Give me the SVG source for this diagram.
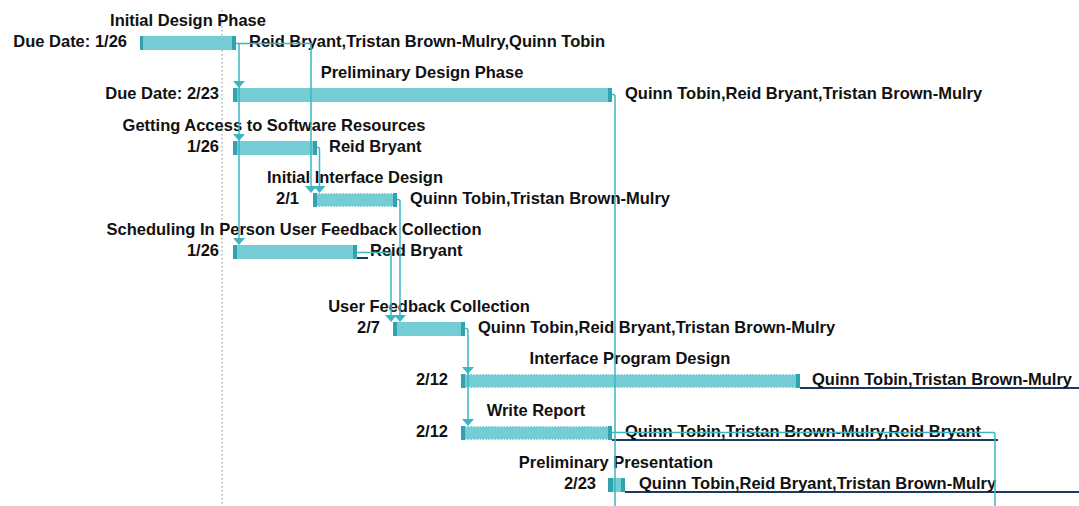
<svg xmlns="http://www.w3.org/2000/svg" width="1079" height="506" viewBox="0 0 1079 506">
<style>
text{font-family:"Liberation Sans",Arial,sans-serif;font-weight:bold;font-size:16.5px;fill:#111}
.t{text-anchor:middle}
.l{text-anchor:end}
.bar{fill:#74CCD4}
.cap{fill:#2FA3AE}
.dot{stroke:#ffffff;stroke-width:1;stroke-dasharray:1.5 1.5;fill:none}
.ul{stroke:#1F3A60;stroke-width:2;fill:none}
.c{stroke:#3DB6C2;stroke-width:1.5;fill:none}
.ah{fill:#3DB6C2}
</style>
<rect width="1079" height="506" fill="#ffffff"/>
<line x1="222" y1="10" x2="222" y2="506" stroke="#8a8a8a" stroke-width="1" stroke-dasharray="1.5 2.5"/>

<g id="n1">
<text class="t" x="188" y="26">Initial Design Phase</text>
<text class="l" x="127" y="47">Due Date: 1/26</text>
<rect class="bar" x="140" y="36" width="96" height="14"/>
<rect class="cap" x="140" y="36" width="3" height="14"/>
<rect class="cap" x="232" y="36" width="4" height="14"/>
<text x="249" y="47">Reid Bryant,Tristan Brown-Mulry,Quinn Tobin</text>
</g>

<g id="n2">
<text class="t" x="422" y="78">Preliminary Design Phase</text>
<text class="l" x="219" y="99">Due Date: 2/23</text>
<rect class="bar" x="233" y="88" width="379" height="14"/>
<rect class="cap" x="233" y="88" width="4" height="14"/>
<rect class="cap" x="608" y="88" width="4" height="14"/>
<text x="625" y="99">Quinn Tobin,Reid Bryant,Tristan Brown-Mulry</text>
</g>

<g id="n3">
<text class="t" x="274" y="131">Getting Access to Software Resources</text>
<text class="l" x="219" y="152">1/26</text>
<rect class="bar" x="233" y="141" width="84" height="14"/>
<rect class="cap" x="233" y="141" width="4" height="14"/>
<rect class="cap" x="313" y="141" width="4" height="14"/>
<text x="329" y="152">Reid Bryant</text>
</g>

<g id="n4">
<text class="t" x="355" y="183">Initial Interface Design</text>
<text class="l" x="299" y="204">2/1</text>
<rect class="bar" x="313" y="193" width="84" height="14"/>
<line class="dot" x1="317" y1="193.5" x2="393" y2="193.5"/>
<line class="dot" x1="317" y1="206.5" x2="393" y2="206.5"/>
<rect class="cap" x="313" y="193" width="4" height="14"/>
<rect class="cap" x="393" y="193" width="4" height="14"/>
<text x="410" y="204">Quinn Tobin,Tristan Brown-Mulry</text>
</g>

<g id="n5">
<text class="t" x="294" y="235">Scheduling In Person User Feedback Collection</text>
<text class="l" x="219" y="256">1/26</text>
<rect class="bar" x="233" y="245" width="124" height="14"/>
<rect class="cap" x="233" y="245" width="4" height="14"/>
<rect class="cap" x="353" y="245" width="4" height="14"/>
<line class="ul" x1="357" y1="258" x2="368" y2="258"/>
<text x="370" y="256">Reid Bryant</text>
</g>

<g id="n6">
<text class="t" x="429" y="312">User Feedback Collection</text>
<text class="l" x="380" y="333">2/7</text>
<rect class="bar" x="393" y="322" width="72" height="14"/>
<rect class="cap" x="393" y="322" width="4" height="14"/>
<rect class="cap" x="461" y="322" width="4" height="14"/>
<text x="478" y="333">Quinn Tobin,Reid Bryant,Tristan Brown-Mulry</text>
</g>

<g id="n7">
<text class="t" x="630" y="364">Interface Program Design</text>
<text class="l" x="448" y="385">2/12</text>
<rect class="bar" x="461" y="374" width="339" height="14"/>
<line class="dot" x1="466" y1="374.5" x2="796" y2="374.5"/>
<line class="dot" x1="466" y1="387.5" x2="796" y2="387.5"/>
<rect class="cap" x="461" y="374" width="4" height="14"/>
<rect class="cap" x="796" y="374" width="4" height="14"/>
<line class="ul" x1="800" y1="388" x2="1079" y2="388"/>
<text x="812" y="385">Quinn Tobin,Tristan Brown-Mulry</text>
</g>

<g id="n8">
<text class="t" x="536" y="416">Write Report</text>
<text class="l" x="448" y="437">2/12</text>
<rect class="bar" x="461" y="426" width="151" height="14"/>
<line class="dot" x1="466" y1="426.5" x2="608" y2="426.5"/>
<line class="dot" x1="466" y1="439.5" x2="608" y2="439.5"/>
<rect class="cap" x="461" y="426" width="4" height="14"/>
<rect class="cap" x="608" y="426" width="4" height="14"/>
<line class="ul" x1="612" y1="440" x2="998" y2="440"/>
<text x="625" y="437">Quinn Tobin,Tristan Brown-Mulry,Reid Bryant</text>
</g>

<g id="n9">
<text class="t" x="616" y="468">Preliminary Presentation</text>
<text class="l" x="596" y="489">2/23</text>
<rect class="bar" x="608" y="478" width="17" height="14"/>
<rect class="cap" x="608" y="478" width="5" height="14"/>
<rect class="cap" x="621" y="478" width="4" height="14"/>
<line class="ul" x1="625" y1="492" x2="1079" y2="492"/>
<text x="639" y="489">Quinn Tobin,Reid Bryant,Tristan Brown-Mulry</text>
</g>

<g id="connectors">
<path class="c" d="M236,43.5 H311 V186"/>
<path class="c" d="M239,43.5 V238"/>
<polygon class="ah" points="233,81 245,81 239,88"/>
<polygon class="ah" points="233,134 245,134 239,141"/>
<polygon class="ah" points="233,238 245,238 239,245"/>
<polygon class="ah" points="305,186 317,186 311,193"/>
<path class="c" d="M317,147.5 H318 Q319.5,147.5 319.5,149 V186"/>
<polygon class="ah" points="313.5,186 325.5,186 319.5,193"/>
<path class="c" d="M397,199.5 H398 Q400,199.5 400,201.5 V315"/>
<polygon class="ah" points="394,315 406,315 400,322"/>
<path class="c" d="M357,252.5 H391 V315"/>
<polygon class="ah" points="385,315 397,315 391,322"/>
<path class="c" d="M465,328.5 H466 Q468,328.5 468,330.5 V419"/>
<polygon class="ah" points="462,367 474,367 468,374"/>
<polygon class="ah" points="462,419 474,419 468,426"/>
<path class="c" d="M612,94.5 H613 Q615,94.5 615,96.5 V506"/>
<path class="c" d="M612,432.5 H993 Q995,432.5 995,434.5 V506"/>
</g>
</svg>
